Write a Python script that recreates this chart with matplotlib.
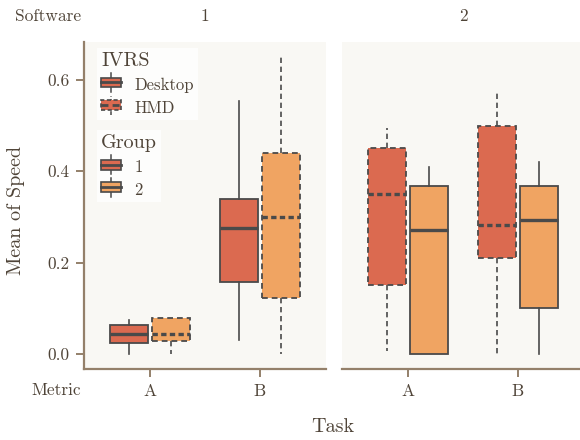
import matplotlib
matplotlib.use("Agg")
import matplotlib.pyplot as plt
from matplotlib.legend_handler import HandlerBase
from matplotlib.patches import Rectangle, Patch
from matplotlib.lines import Line2D

plt.rcParams["font.family"] = ["cmr10", "DejaVu Serif"]
plt.rcParams["axes.formatter.use_mathtext"] = True

# Speed summaries per software / group: (whislo, q1, med, q3, whishi) for metrics A, B
metrics = ["A", "B"]
software = ["1", "2"]

sw1_g1_lo = [0.000, 0.032]
sw1_g1_q1 = [0.025, 0.157]
sw1_g1_med = [0.045, 0.276]
sw1_g1_q3 = [0.063, 0.339]
sw1_g1_hi = [0.074, 0.553]

sw1_g2_lo = [0.000, 0.000]
sw1_g2_q1 = [0.028, 0.123]
sw1_g2_med = [0.045, 0.299]
sw1_g2_q3 = [0.079, 0.439]
sw1_g2_hi = [0.079, 0.650]

sw2_g1_lo = [0.007, 0.000]
sw2_g1_q1 = [0.152, 0.211]
sw2_g1_med = [0.350, 0.282]
sw2_g1_q3 = [0.450, 0.498]
sw2_g1_hi = [0.495, 0.571]

sw2_g2_lo = [0.000, 0.000]
sw2_g2_q1 = [0.000, 0.100]
sw2_g2_med = [0.271, 0.294]
sw2_g2_q3 = [0.368, 0.367]
sw2_g2_hi = [0.409, 0.420]

# which IVRS each group used in each software
ivrs_sw1 = ["Desktop", "HMD"]
ivrs_sw2 = ["HMD", "Desktop"]

yticks = [0.0, 0.2, 0.4, 0.6]
ytick_labels = ["0.0", "0.2", "0.4", "0.6"]

RED = "#DB6A50"
ORANGE = "#F0A462"
BG = "#F9F8F4"
SPINE = "#94806A"
TXT = "#4F4438"
EDGE = "#4A4A4A"
DASH = (0, (3.2, 2.2))
MED_DASH = (0, (1.6, 1.0))

group_colors = [RED, ORANGE]
ivrs_style = {"Desktop": ("-", "-"), "HMD": (DASH, MED_DASH)}


def stats(lo, q1, med, q3, hi):
    return [dict(whislo=lo[i], q1=q1[i], med=med[i], q3=q3[i], whishi=hi[i])
            for i in range(len(metrics))]


def draw_group(ax, st, offset, color, ivrs):
    ls, mls = ivrs_style[ivrs]
    pos = [i + offset for i in range(len(metrics))]
    ax.bxp(st, positions=pos, widths=0.345, patch_artist=True,
           showcaps=False, showfliers=False, manage_ticks=False,
           boxprops=dict(facecolor=color, edgecolor=EDGE, linewidth=1.3, linestyle=ls),
           medianprops=dict(color=EDGE, linewidth=2.4, linestyle=mls, solid_capstyle="butt"),
           whiskerprops=dict(color=EDGE, linewidth=1.2, linestyle=ls))


class HandlerBox(HandlerBase):
    def create_artists(self, legend, orig, xd, yd, width, height, fontsize, trans):
        ls = orig.get_linestyle()
        cx = xd + width / 2
        bh = height * 0.75
        by = yd + (height - bh) / 2
        whisk = Line2D([cx, cx], [yd - height * 0.2, yd + height * 1.2],
                       color=EDGE, lw=1.1, linestyle=ls, transform=trans)
        box = Rectangle((xd, by), width, bh, facecolor=orig.get_facecolor(),
                        edgecolor=EDGE, lw=1.2, linestyle=ls, transform=trans)
        med = Line2D([xd, xd + width], [yd + height / 2] * 2, color=EDGE,
                     lw=2.0, linestyle=ls, transform=trans)
        return [whisk, box, med]


fig = plt.figure(figsize=(5.8, 4.4), dpi=100)
W, H = 580, 440
ax1 = fig.add_axes([84 / W, 1 - 369 / H, 242 / W, 327 / H])
ax2 = fig.add_axes([342 / W, 1 - 369 / H, 242 / W, 327 / H])

panels = [
    (ax1, stats(sw1_g1_lo, sw1_g1_q1, sw1_g1_med, sw1_g1_q3, sw1_g1_hi),
     stats(sw1_g2_lo, sw1_g2_q1, sw1_g2_med, sw1_g2_q3, sw1_g2_hi), ivrs_sw1),
    (ax2, stats(sw2_g1_lo, sw2_g1_q1, sw2_g1_med, sw2_g1_q3, sw2_g1_hi),
     stats(sw2_g2_lo, sw2_g2_q1, sw2_g2_med, sw2_g2_q3, sw2_g2_hi), ivrs_sw2),
]

for ax, st1, st2, ivrs in panels:
    ax.set_facecolor(BG)
    draw_group(ax, st1, -0.19, group_colors[0], ivrs[0])
    draw_group(ax, st2, 0.19, group_colors[1], ivrs[1])
    ax.set_xlim(-0.6, 1.6)
    ax.set_ylim(-0.0325, 0.6825)
    ax.set_xticks(range(len(metrics)))
    ax.set_xticklabels(metrics)
    for s in ["top", "right"]:
        ax.spines[s].set_visible(False)
    ax.spines["bottom"].set_color(SPINE)
    ax.spines["bottom"].set_linewidth(1.6)
    ax.spines["left"].set_color(SPINE)
    ax.spines["left"].set_linewidth(1.6)
    ax.tick_params(colors=SPINE, labelcolor=TXT, labelsize=12.5, length=5.5,
                   width=1.4, pad=5)

ax1.set_yticks(yticks)
ax1.set_yticklabels(ytick_labels)
ax2.spines["left"].set_visible(False)
ax2.set_yticks([])

# facet strip labels and axis titles
fig.text(48 / W, 1 - 16 / H, "Software", ha="center", va="center", fontsize=12.5, color=TXT)
for ax, name in zip([ax1, ax2], software):
    bb = ax.get_position()
    fig.text(bb.x0 + bb.width / 2, 1 - 16 / H, name, ha="center", va="center",
             fontsize=12.5, color=TXT)
fig.text(56 / W, 1 - 390 / H, "Metric", ha="center", va="center", fontsize=12.5, color=TXT)
fig.text(333 / W, 1 - 427 / H, "Task", ha="center", va="center", fontsize=14.5, color=TXT)
fig.text(16 / W, 1 - 210 / H, "Mean of Speed", ha="center", va="center",
         rotation=90, fontsize=14.5, color=TXT)

# legends: IVRS (line style) and Group (fill colour)
hmap = {Patch: HandlerBox()}
ivrs_handles = [Patch(facecolor=RED, linestyle="-"), Patch(facecolor=RED, linestyle=(0, (2.5, 1.5)))]
grp_handles = [Patch(facecolor=c, linestyle="-") for c in group_colors]

common = dict(loc="upper left", handler_map=hmap, frameon=True, fancybox=False,
              fontsize=12, title_fontsize=14.5, handlelength=1.2, handleheight=0.85,
              handletextpad=0.8, labelspacing=0.45, borderpad=0.25,
              borderaxespad=0.0, alignment="left", labelcolor=TXT)
leg1 = ax1.legend(ivrs_handles, ["Desktop", "HMD"], title="IVRS",
                  bbox_to_anchor=(13 / 242, 1 - 6 / 327), **common)
leg1.get_frame().set_facecolor("white")
leg1.get_frame().set_edgecolor("none")
leg1.get_title().set_color(TXT)
ax1.add_artist(leg1)
leg2 = ax1.legend(grp_handles, ["1", "2"], title="Group",
                  bbox_to_anchor=(13 / 242, 1 - 88 / 327), **common)
leg2.get_frame().set_facecolor("white")
leg2.get_frame().set_edgecolor("none")
leg2.get_title().set_color(TXT)

fig.savefig("out.png", dpi=100)
